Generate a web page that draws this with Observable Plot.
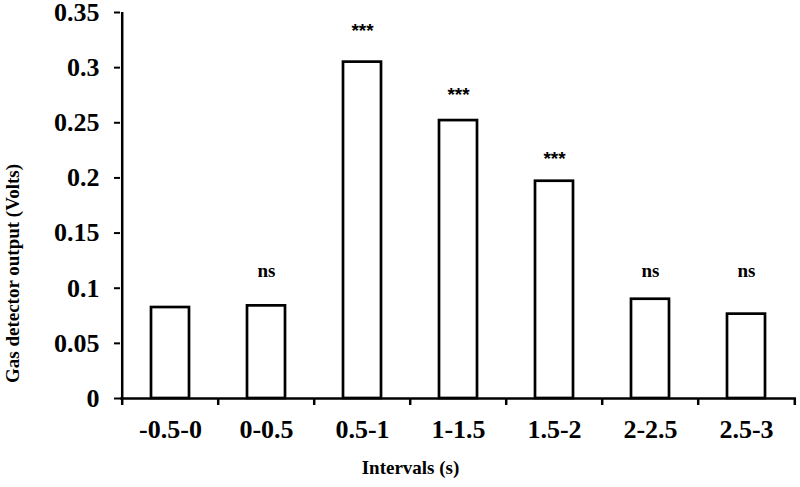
<!DOCTYPE html>
<html>
<head>
<meta charset="utf-8">
<script src="https://cdn.jsdelivr.net/npm/d3@7"></script>
<script src="https://cdn.jsdelivr.net/npm/@observablehq/plot@0.6"></script>
<style>
  html, body { margin: 0; padding: 0; background: #fff; }
  svg { display: block; }
</style>
</head>
<body>
<div id="chart"></div>
<script>
const categories = ["-0.5-0", "0-0.5", "0.5-1", "1-1.5", "1.5-2", "2-2.5", "2.5-3"];
const values = [0.0825, 0.084, 0.305, 0.252, 0.197, 0.090, 0.0765];
const sigLabels = ["", "ns", "***", "***", "***", "ns", "ns"];
const sigY = [null, 0.116, 0.336, 0.278, 0.220, 0.116, 0.116];
const yTicks = [0, 0.05, 0.1, 0.15, 0.2, 0.25, 0.3, 0.35];
const yTickLabels = ["0", "0.05", "0.1", "0.15", "0.2", "0.25", "0.3", "0.35"];

const data = categories.map((c, i) => ({cat: c, value: values[i], sig: sigLabels[i], sy: sigY[i]}));
const nsData = data.filter(d => d.sig === "ns");
const starData = data.filter(d => d.sig === "***");

const W = 800, H = 487, mL = 120, mR = 4, mT = 12, mB = 89;
const step = (W - mL - mR) / categories.length;
const serif = "'Liberation Serif', 'Times New Roman', serif";
const sans = "'Liberation Sans', Arial, sans-serif";

const chart = Plot.plot({
  width: W,
  height: H,
  marginLeft: mL,
  marginRight: mR,
  marginTop: mT,
  marginBottom: mB,
  style: {fontFamily: serif, fontWeight: "bold", background: "#fff", color: "#000", overflow: "visible"},
  x: {domain: categories, paddingInner: 0.6, paddingOuter: 0.3, align: 0.5},
  y: {type: "linear", domain: [0, 0.35]},
  marks: [
    Plot.barY(data, {x: "cat", y: "value", fill: "white", stroke: "black", strokeWidth: 2.7}),
    Plot.axisY({ticks: yTicks, tickFormat: d => yTickLabels[yTicks.indexOf(d)], tickSize: 6, tickPadding: 15, fontSize: 26, fontWeight: "bold", strokeWidth: 2, label: null}),
    Plot.axisX({tickSize: 0, tickPadding: 21, fontSize: 26, fontWeight: "bold", label: null}),
    Plot.axisX({tickSize: 7, tickFormat: () => "", dx: -step / 2, strokeWidth: 2.5, label: null}),
    Plot.axisX({ticks: [categories[categories.length - 1]], tickSize: 7, tickFormat: () => "", dx: step / 2, strokeWidth: 2.5, label: null}),
    Plot.ruleX([categories[0]], {x: d => d, y1: 0, y2: 0.35, dx: -step / 2, stroke: "black", strokeWidth: 2.5}),
    Plot.ruleY([0], {stroke: "black", strokeWidth: 2.5}),
    Plot.text(nsData, {x: "cat", y: "sy", text: "sig", fontSize: 19, fontWeight: "bold", lineAnchor: "middle", fontFamily: serif}),
    Plot.text(starData, {x: "cat", y: "sy", text: "sig", fontSize: 19, fontWeight: "bold", lineAnchor: "middle", fontFamily: sans, dy: 3}),
    Plot.text(["Gas detector output (Volts)"], {frameAnchor: "left", rotate: -90, dx: -108, dy: 68, fontSize: 19, fontWeight: "bold", textAnchor: "middle"}),
    Plot.text(["Intervals (s)"], {frameAnchor: "bottom", dx: -48, dy: 75, lineAnchor: "bottom", fontSize: 19, fontWeight: "bold"})
  ]
});
document.getElementById("chart").appendChild(chart);
</script>
</body>
</html>
